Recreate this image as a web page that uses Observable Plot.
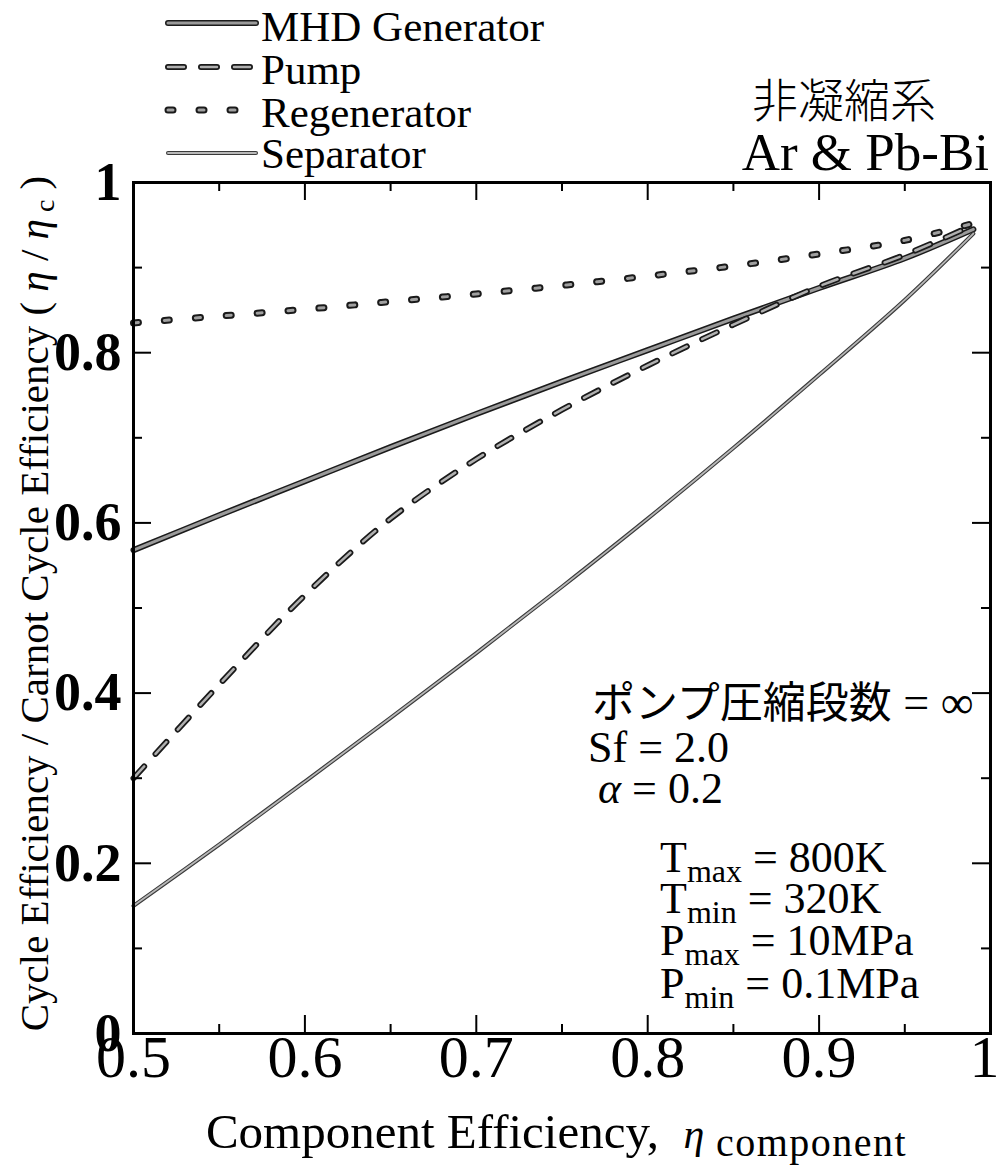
<!DOCTYPE html>
<html><head><meta charset="utf-8">
<script src="https://cdn.jsdelivr.net/npm/d3@7"></script>
<script src="https://cdn.jsdelivr.net/npm/@observablehq/plot@0.6"></script>
<style>
body{margin:0;background:#fff;}
#wrap{position:relative;width:999px;height:1167px;overflow:hidden;}
#legend{position:absolute;left:0;top:0;z-index:2;}
</style></head><body><div id="wrap"></div>
<script>
// ---- data ----
const efficiency = [0.5, 0.55, 0.6, 0.65, 0.7, 0.75, 0.8, 0.85, 0.9, 0.95, 0.99];
const mhdGenerator = [0.568, 0.609, 0.649, 0.689, 0.728, 0.766, 0.803, 0.840, 0.876, 0.911, 0.945];
const pump        = [0.300, 0.410, 0.515, 0.605, 0.675, 0.733, 0.785, 0.833, 0.878, 0.915, 0.950];
const regenerator = [0.835, 0.843, 0.851, 0.860, 0.869, 0.879, 0.890, 0.902, 0.916, 0.932, 0.952];
const separator   = [0.150, 0.222, 0.296, 0.371, 0.447, 0.525, 0.605, 0.688, 0.774, 0.862, 0.940];
const seriesNames = ["MHD Generator", "Pump", "Regenerator", "Separator"];
const seriesValues = [mhdGenerator, pump, regenerator, separator];
const xTicks = [0.5, 0.6, 0.7, 0.8, 0.9, 1];
const xTickLabels = ["0.5", "0.6", "0.7", "0.8", "0.9", "1"];
const xMinor = [0.55, 0.65, 0.75, 0.85, 0.95];
const yTicks = [0, 0.2, 0.4, 0.6, 0.8, 1];
const yTickLabels = ["0", "0.2", "0.4", "0.6", "0.8", "1"];
const yMinor = [0.1, 0.3, 0.5, 0.7, 0.9];

// ---- styles ----
const serif = '"Liberation Serif", serif';
const cjk = '"Noto Sans CJK JP", sans-serif';
const lineStyles = {
  "MHD Generator": {outer: "#1a1a1a", outerW: 6, inner: "#9a9a9a", innerW: 3, dash: null},
  "Pump":          {outer: "#1a1a1a", outerW: 6, inner: "#b0b0b0", innerW: 2.5, dash: "16,17"},
  "Regenerator":   {outer: "#1a1a1a", outerW: 7, inner: "#a0a0a0", innerW: 3, dash: "5,26"},
  "Separator":     {outer: "#3a3a3a", outerW: 4, inner: "#b8b8b8", innerW: 1.8, dash: null}
};

const rows = seriesNames.flatMap((name, i) =>
  efficiency.map((x, j) => ({series: name, x, y: seriesValues[i][j]})));

const W = 999, H = 1167, mL = 133, mR = 9, mT = 182, mB = 134;
const pw = W - mL - mR, ph = H - mT - mB;
const majYlen = 18 / ph, minYlen = 9 / ph;             // in y units
const majXlen = 18 / pw * 0.5, minXlen = 9 / pw * 0.5; // in x units

const lineMarks = seriesNames.flatMap(name => {
  const s = lineStyles[name];
  const data = rows.filter(d => d.series === name);
  const common = {x: "x", y: "y", curve: "catmull-rom", strokeLinecap: "round", strokeLinejoin: "round"};
  return [
    Plot.line(data, {...common, stroke: s.outer, strokeWidth: s.outerW, strokeDasharray: s.dash}),
    Plot.line(data, {...common, stroke: s.inner, strokeWidth: s.innerW, strokeDasharray: s.dash})
  ];
});

const xAxisOpts = {tickSize: 0, tickPadding: 1, fontSize: 60, fontFamily: serif, label: null,
  tickFormat: d => xTickLabels[xTicks.indexOf(d)]};

const plot = Plot.plot({
  width: W, height: H,
  marginLeft: mL, marginRight: mR, marginTop: mT, marginBottom: mB,
  style: {fontFamily: serif, color: "#000", background: "transparent"},
  x: {domain: [0.5, 1], axis: null},
  y: {domain: [0, 1], axis: null},
  marks: [
    ...lineMarks,
    // inward tick marks on all four sides
    Plot.ruleX(xTicks, {x: d => d, y1: 0, y2: majYlen, stroke: "#000", strokeWidth: 2}),
    Plot.ruleX(xMinor, {x: d => d, y1: 0, y2: minYlen, stroke: "#000", strokeWidth: 2}),
    Plot.ruleX(xTicks, {x: d => d, y1: 1 - majYlen, y2: 1, stroke: "#000", strokeWidth: 2}),
    Plot.ruleX(xMinor, {x: d => d, y1: 1 - minYlen, y2: 1, stroke: "#000", strokeWidth: 2}),
    Plot.ruleY(yTicks, {y: d => d, x1: 0.5, x2: 0.5 + majXlen, stroke: "#000", strokeWidth: 2}),
    Plot.ruleY(yMinor, {y: d => d, x1: 0.5, x2: 0.5 + minXlen, stroke: "#000", strokeWidth: 2}),
    Plot.ruleY(yTicks, {y: d => d, x1: 1 - majXlen, x2: 1, stroke: "#000", strokeWidth: 2}),
    Plot.ruleY(yMinor, {y: d => d, x1: 1 - minXlen, x2: 1, stroke: "#000", strokeWidth: 2}),
    Plot.frame({stroke: "#000", strokeWidth: 3}),
    Plot.axisX(xTicks.slice(0, -1), xAxisOpts),
    Plot.axisX(xTicks.slice(-1), {...xAxisOpts, dx: -6}),
    Plot.axisY(yTicks, {tickSize: 0, tickPadding: 12, fontSize: 54, fontWeight: "bold", fontFamily: serif, label: null,
      tickFormat: d => yTickLabels[yTicks.indexOf(d)]})
  ]
});
document.getElementById("wrap").appendChild(plot);

// ---- annotations positioned through the plot's scales ----
const sx = plot.scale("x"), sy = plot.scale("y");
const svg = d3.select(plot);
const ann = svg.append("g").attr("font-family", serif).attr("fill", "#000");

function richText(g, x, y, parts, size, anchor = "start") {
  const t = g.append("text").attr("x", x).attr("y", y).attr("font-size", size).attr("text-anchor", anchor);
  let shift = 0;
  parts.forEach(p => {
    const ts = t.append("tspan").text(p.t);
    const target = p.sub ? (p.dy || 10) : 0;
    if (target !== shift) { ts.attr("dy", target - shift); shift = target; }
    if (p.size) ts.attr("font-size", p.size);
    if (p.italic) ts.attr("font-style", "italic");
    if (p.family) ts.attr("font-family", p.family);
    if (p.ls) ts.attr("letter-spacing", p.ls);
  });
  return t;
}

const notes = [
  {x: 0.7678, y: 0.370, parts: [{t: "ポンプ圧縮段数", family: cjk, size: 43}, {t: " = ∞", size: 46}], size: 44},
  {x: 0.7655, y: 0.3185, parts: [{t: "Sf = 2.0"}], size: 44},
  {x: 0.7713, y: 0.270, parts: [{t: "α", italic: true}, {t: " = 0.2"}], size: 44},
  {x: 0.8075, y: 0.189, parts: [{t: "T"}, {t: "max", sub: true, size: 32}, {t: " = 800K"}], size: 44},
  {x: 0.8075, y: 0.141, parts: [{t: "T"}, {t: "min", sub: true, size: 32}, {t: " = 320K"}], size: 44},
  {x: 0.8075, y: 0.0917, parts: [{t: "P"}, {t: "max", sub: true, size: 32}, {t: " = 10MPa"}], size: 44},
  {x: 0.8075, y: 0.0411, parts: [{t: "P"}, {t: "min", sub: true, size: 32}, {t: " = 0.1MPa"}], size: 44}
];
notes.forEach(n => richText(ann, sx.apply(n.x), sy.apply(n.y), n.parts, n.size));

// axis titles
const cx = (sx.apply(0.5) + sx.apply(1)) / 2;
richText(ann, cx - 5, sy.apply(0) + 115, [
  {t: "Component Efficiency,  "}, {t: "η", italic: true, size: 42},
  {t: " component", sub: true, dy: 8, size: 40, ls: 1.5}
], 49, "middle");

const cy = (sy.apply(0) + sy.apply(1)) / 2;
const yt = richText(ann, 0, 0, [
  {t: "Cycle Efficiency / Carnot Cycle Efficiency ( "}, {t: "η", italic: true},
  {t: " / "}, {t: "η", italic: true}, {t: " c", sub: true, dy: 6, size: 28}, {t: " )"}
], 41, "middle");
yt.attr("transform", `translate(48,${cy - 4}) rotate(-90)`);

// ---- legend and header text (above the plot) ----
const leg = d3.select("#wrap").append("svg").attr("id", "legend")
  .attr("width", W).attr("height", 180);
const legendRows = [23, 67, 110, 153];
const legendBase = [41, 84, 127, 168];
seriesNames.forEach((name, i) => {
  const s = lineStyles[name];
  [[s.outer, s.outerW], [s.inner, s.innerW]].forEach(([c, w]) => {
    leg.append("line").attr("x1", 168).attr("x2", 256)
      .attr("y1", legendRows[i]).attr("y2", legendRows[i])
      .attr("stroke", c).attr("stroke-width", w).attr("stroke-linecap", "round")
      .attr("stroke-dasharray", s.dash);
  });
  leg.append("text").attr("x", 261).attr("y", legendBase[i]).attr("font-family", serif)
    .attr("font-size", 43).text(name);
});
leg.append("text").attr("x", 936).attr("y", 117).attr("text-anchor", "end")
  .attr("font-family", cjk).attr("font-weight", 300)
  .attr("font-size", 46).text("非凝縮系");
leg.append("text").attr("x", 989).attr("y", 170).attr("text-anchor", "end")
  .attr("font-family", serif).attr("font-size", 53).text("Ar & Pb-Bi");
</script></body></html>
